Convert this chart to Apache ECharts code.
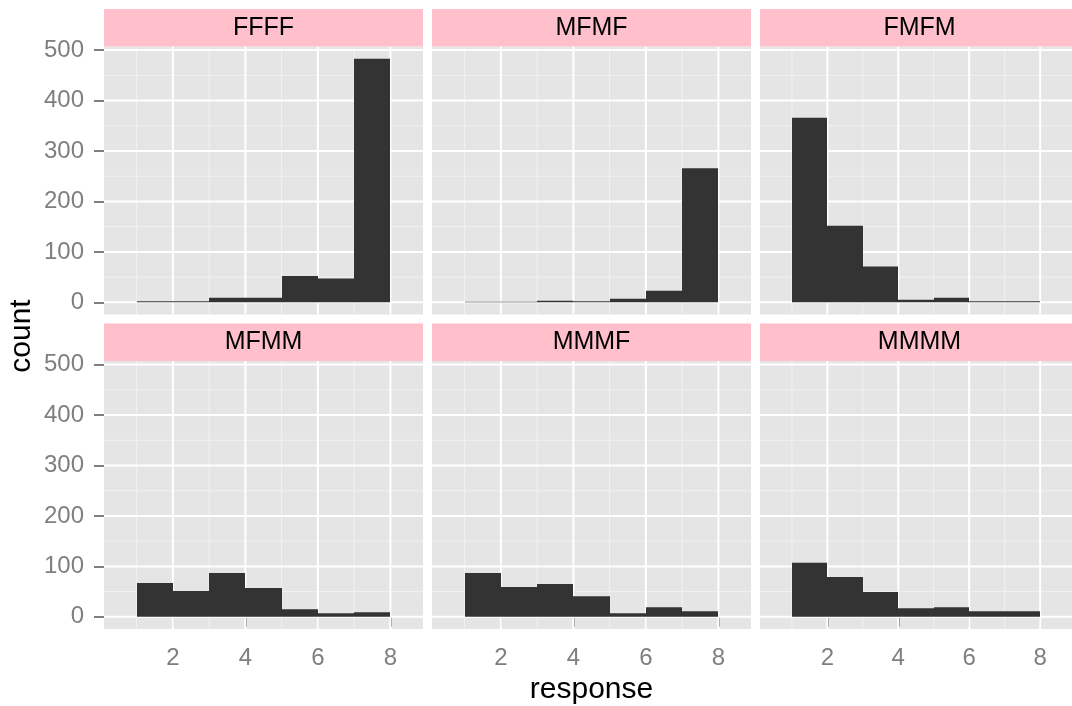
<!DOCTYPE html>
<html>
<head>
<meta charset="utf-8">
<script src="https://cdn.jsdelivr.net/npm/echarts@6/dist/echarts.min.js"></script>
<style>
html,body{margin:0;padding:0;background:#fff;}
#chart{width:1072px;height:706px;}
</style>
</head>
<body>
<div id="chart"></div>
<script>
// ---- data ----
const facets = ['FFFF', 'MFMF', 'FMFM', 'MFMM', 'MMMF', 'MMMM'];
const binEdges = [1, 2, 3, 4, 5, 6, 7, 8];
const FFFF = [2, 2, 9, 9, 52, 47, 483];
const MFMF = [1, 1, 3, 2, 7, 23, 266];
const FMFM = [366, 152, 71, 5, 9, 2, 2];
const MFMM = [67, 51, 87, 57, 15, 7, 9];
const MMMF = [87, 59, 65, 41, 7, 19, 11];
const MMMM = [107, 79, 49, 17, 19, 11, 11];
const counts = [FFFF, MFMF, FMFM, MFMM, MMMF, MMMM];
const xTicks = [2, 4, 6, 8];
const xMinor = [1, 3, 5, 7];
const yTicks = [0, 100, 200, 300, 400, 500];
const yMinor = [50, 150, 250, 350, 450];
const xRange = [0.1, 8.9];
const yRange = [-24.15, 507.15];
const xTitle = 'response';
const yTitle = 'count';

// ---- layout ----
const colLeft = [104, 432, 760];
const rowTop = [46.5, 361];
const panelW = 319, panelH = 268, stripH = 37.5;
const FONT = 'Liberation Sans, Arial, Helvetica, sans-serif';
const TICK_COLOR = '#7F7F7F';

const grids = [], xAxes = [], yAxes = [], series = [], graphics = [];

facets.forEach((name, i) => {
  const col = i % 3, row = Math.floor(i / 3);
  grids.push({
    left: colLeft[col], top: rowTop[row], width: panelW, height: panelH,
    show: true, backgroundColor: '#E5E5E5', borderWidth: 0, containLabel: false
  });
  const showX = row === 1, showY = col === 0;
  xAxes.push({
    type: 'value', gridIndex: i, min: xRange[0], max: xRange[1],
    axisLine: { show: false },
    splitLine: { show: false },
    axisTick: { show: showX, customValues: xTicks, length: 10, lineStyle: { color: TICK_COLOR, width: 2 } },
    axisLabel: { show: showX, customValues: xTicks, fontSize: 24, color: TICK_COLOR, margin: 17, fontFamily: FONT }
  });
  yAxes.push({
    type: 'value', gridIndex: i, min: yRange[0], max: yRange[1],
    axisLine: { show: false },
    splitLine: { show: false },
    axisTick: { show: showY, customValues: yTicks, length: 10, lineStyle: { color: TICK_COLOR, width: 2 } },
    axisLabel: { show: showY, customValues: yTicks, fontSize: 24, color: TICK_COLOR, margin: 20, fontFamily: FONT }
  });

  // grid lines: [value, isX, isMajor]
  const gl = [];
  xMinor.forEach(v => gl.push([v, 1, 0]));
  yMinor.forEach(v => gl.push([v, 0, 0]));
  xTicks.forEach(v => gl.push([v, 1, 1]));
  yTicks.forEach(v => gl.push([v, 0, 1]));
  series.push({
    type: 'custom', xAxisIndex: i, yAxisIndex: i, silent: true, z: 1,
    data: gl,
    encode: { x: 0 },
    renderItem: function (params, api) {
      const cs = params.coordSys;
      const v = api.value(0), isX = api.value(1), major = api.value(2);
      const style = { stroke: major ? '#FFFFFF' : '#F2F2F2', lineWidth: major ? 2 : 1 };
      if (isX) {
        const p = api.coord([v, 0]);
        return { type: 'line', shape: { x1: p[0], y1: cs.y, x2: p[0], y2: cs.y + cs.height }, style: style };
      } else {
        const p = api.coord([xRange[0], v]);
        return { type: 'line', shape: { x1: cs.x, y1: p[1], x2: cs.x + cs.width, y2: p[1] }, style: style };
      }
    }
  });

  // histogram bars: [x0, x1, count]
  const bars = counts[i].map((c, k) => [binEdges[k], binEdges[k + 1], c]);
  series.push({
    type: 'custom', xAxisIndex: i, yAxisIndex: i, z: 2,
    data: bars,
    encode: { x: [0, 1], y: 2 },
    renderItem: function (params, api) {
      const p0 = api.coord([api.value(0), 0]);
      const p1 = api.coord([api.value(1), api.value(2)]);
      const x0 = Math.round(p0[0]), x1 = Math.round(p1[0]);
      return {
        type: 'rect',
        shape: { x: x0, y: p1[1], width: x1 - x0, height: p0[1] - p1[1] },
        style: { fill: '#333333' }
      };
    }
  });

  // facet strip
  graphics.push({
    type: 'rect', left: colLeft[col], top: rowTop[row] - stripH, z: 10,
    shape: { width: panelW, height: stripH },
    style: { fill: '#FFC0CB' }
  });
  graphics.push({
    type: 'text', z: 11,
    x: colLeft[col] + panelW / 2, y: rowTop[row] - stripH / 2,
    style: { text: name, fill: '#000000', font: '25px ' + FONT, textAlign: 'center', textVerticalAlign: 'middle' }
  });
});

graphics.push({
  type: 'text', x: (colLeft[0] + colLeft[2] + panelW) / 2, y: 690,
  style: { text: xTitle, fill: '#000000', font: '30px ' + FONT, textAlign: 'center', textVerticalAlign: 'middle' }
});
graphics.push({
  type: 'text', x: 22, y: 336, rotation: Math.PI / 2,
  style: { text: yTitle, fill: '#000000', font: '30px ' + FONT, textAlign: 'center', textVerticalAlign: 'middle' }
});

const chart = echarts.init(document.getElementById('chart'), null, { renderer: 'canvas' });
chart.setOption({
  animation: false,
  backgroundColor: '#FFFFFF',
  grid: grids,
  xAxis: xAxes,
  yAxis: yAxes,
  series: series,
  graphic: graphics
});
</script>
</body>
</html>
